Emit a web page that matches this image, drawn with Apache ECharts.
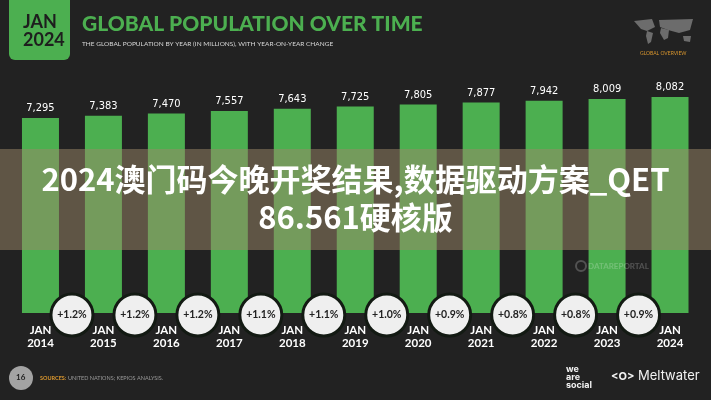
<!DOCTYPE html>
<html>
<head>
<meta charset="utf-8">
<script src="https://cdn.jsdelivr.net/npm/echarts@6/dist/echarts.min.js"></script>
<style>
    html, body { margin: 0; padding: 0; background: #222222; }
    #chart { width: 711px; height: 400px; }
</style>
</head>
<body>
<div id="chart"></div>
<script>
    // data
    var years = ['2014', '2015', '2016', '2017', '2018', '2019', '2020', '2021', '2022', '2023', '2024'];
    var population = [7295, 7383, 7470, 7557, 7643, 7725, 7805, 7877, 7942, 8009, 8082];
    var yoyChange = ['+1.2%', '+1.2%', '+1.2%', '+1.1%', '+1.1%', '+1.0%', '+0.9%', '+0.8%', '+0.8%', '+0.9%'];

    var green = '#4caf50';
    var myChart = echarts.init(document.getElementById('chart'));

    // circles sit half way between two bars
    var changePoints = yoyChange.map(function (c, i) {
        return { value: [i + 0.5, 0], label: { formatter: c } };
    });

    myChart.setOption({
        backgroundColor: '#222222',
        animation: false,
        grid: [
            { left: 9, right: 9.5, top: 72.5, bottom: 87 },
            { left: 9, right: 9.5, top: 305, height: 20 }
        ],
        xAxis: [
            {
                type: 'category',
                gridIndex: 0,
                data: years,
                axisLine: { show: false },
                axisTick: { show: false },
                axisLabel: {
                    color: '#ffffff',
                    fontFamily: 'Lato',
                    fontWeight: 'bold',
                    fontSize: 11.5,
                    lineHeight: 13,
                    margin: 11,
                    formatter: function (v) { return 'JAN\n' + v; }
                }
            },
            { type: 'value', gridIndex: 1, min: -0.5, max: 10.5, show: false }
        ],
        yAxis: [
            { type: 'value', gridIndex: 0, min: 0, max: 9000, show: false },
            { type: 'value', gridIndex: 1, min: -1, max: 1, show: false }
        ],
        series: [
            {
                type: 'bar',
                xAxisIndex: 0,
                yAxisIndex: 0,
                barWidth: 37,
                data: population,
                itemStyle: { color: green },
                label: {
                    show: true,
                    position: 'top',
                    distance: 4,
                    color: '#ffffff',
                    fontFamily: '"DejaVu Sans Condensed", "Liberation Sans Narrow", Roboto',
                    fontSize: 11,
                    formatter: function (p) { return p.value.toLocaleString('en-US'); }
                }
            },
            {
                type: 'scatter',
                xAxisIndex: 1,
                yAxisIndex: 1,
                symbolSize: 42,
                clip: false,
                z: 5,
                data: changePoints,
                itemStyle: { color: '#efefef', borderColor: '#131a13', borderWidth: 3, opacity: 1 },
                label: {
                    show: true,
                    position: 'inside',
                    color: '#222222',
                    fontFamily: 'Lato',
                    fontWeight: 'bold',
                    fontSize: 10.5
                }
            }
        ],
        graphic: [
            // header badge
            { type: 'rect', z: 100, shape: { x: 9, y: -10, width: 61, height: 70, r: 6 }, style: { fill: green } },
            { type: 'text', z: 101, left: 23, top: 13, style: { text: 'JAN\n2024', fill: '#1e1e1e', font: 'bold 18px Lato', lineHeight: 18, align: 'center' } },
            { type: 'text', z: 101, left: 82, top: 14, style: { text: 'GLOBAL POPULATION OVER TIME', fill: green, font: '900 21px Lato' } },
            { type: 'text', z: 101, left: 82, top: 40, style: { text: 'THE GLOBAL POPULATION BY YEAR (IN MILLIONS), WITH YEAR-ON-YEAR CHANGE', fill: '#d8d8d8', font: '6.5px Lato' } },
            // world map icon (rough)
            { type: 'polygon', z: 100, shape: { points: [[634, 21], [652, 19], [655, 27], [647, 31], [641, 29]] }, style: { fill: '#6c6c6c' } },
            { type: 'polygon', z: 100, shape: { points: [[647, 31], [653, 33], [651, 42], [648, 44], [646, 36]] }, style: { fill: '#6c6c6c' } },
            { type: 'polygon', z: 100, shape: { points: [[659, 20], [693, 19], [690, 30], [679, 33], [668, 30], [660, 27]] }, style: { fill: '#6c6c6c' } },
            { type: 'polygon', z: 100, shape: { points: [[661, 28], [669, 30], [668, 38], [664, 40], [660, 33]] }, style: { fill: '#6c6c6c' } },
            { type: 'polygon', z: 100, shape: { points: [[683, 36], [691, 36], [690, 42], [684, 41]] }, style: { fill: '#6c6c6c' } },
            { type: 'text', z: 101, left: 640, top: 51, style: { text: 'GLOBAL OVERVIEW', fill: '#d9962e', font: '5px Lato' } },
            // watermark
            { type: 'circle', z: 101, shape: { cx: 581, cy: 266, r: 5 }, style: { fill: 'none', stroke: 'rgba(255,255,255,0.22)', lineWidth: 2 } },
            { type: 'text', z: 101, left: 588, top: 262, style: { text: 'DATAREPORTAL', fill: 'rgba(255,255,255,0.22)', font: 'bold 8px Lato' } },
            // overlay band
            { type: 'rect', z: 110, shape: { x: 0, y: 149, width: 711, height: 101 }, style: { fill: 'rgba(156,135,103,0.5)' } },
            {
                type: 'text', z: 111, left: 'center', top: 164,
                style: {
                    text: '2024澳门码今晚开奖结果,数据驱动方案_QET',
                    fill: '#ffffff', font: 'bold 31px "Noto Sans CJK SC"',
                    shadowColor: 'rgba(0,0,0,0.35)', shadowBlur: 3
                }
            },
            {
                type: 'text', z: 111, left: 'center', top: 202,
                style: {
                    text: '86.561硬核版',
                    fill: '#ffffff', font: 'bold 31px "Noto Sans CJK SC"',
                    shadowColor: 'rgba(0,0,0,0.35)', shadowBlur: 3
                }
            },
            // footer
            { type: 'circle', z: 100, shape: { cx: 21, cy: 378, r: 12 }, style: { fill: '#a3a3a3' } },
            { type: 'text', z: 101, left: 16, top: 373, style: { text: '16', fill: '#222222', font: 'bold 8px Lato' } },
            { type: 'text', z: 101, left: 40, top: 375, style: { text: 'SOURCES:', fill: '#d9962e', font: 'bold 5.5px Lato' } },
            { type: 'text', z: 101, left: 68, top: 375, style: { text: 'UNITED NATIONS; KEPIOS ANALYSIS.', fill: '#9a9a9a', font: '5.5px Lato' } },
            { type: 'text', z: 101, left: 566, top: 365, style: { text: 'we\nare\nsocial', fill: '#f2f2f2', font: 'bold 9px Inter', lineHeight: 8 } },
            { type: 'text', z: 101, left: 611, top: 371, style: { text: '<O>', fill: '#f2f2f2', font: 'bold 11px Inter' } },
            { type: 'text', z: 101, left: 638, top: 370, style: { text: 'Meltwater', fill: '#f2f2f2', font: '13px Inter' } }
        ]
    });
</script>
</body>
</html>
